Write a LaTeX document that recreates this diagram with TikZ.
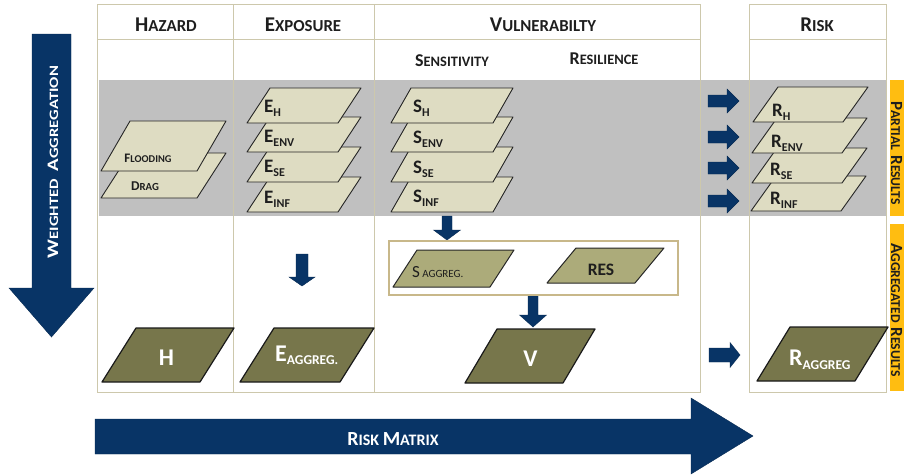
\documentclass[tikz,border=0pt]{standalone}
\usepackage{fontspec}
\usepackage{graphicx}
\setmainfont{Carlito}
\definecolor{navy}{RGB}{8,52,102}
\definecolor{beige}{RGB}{222,220,194}
\definecolor{olivedark}{RGB}{119,118,75}
\definecolor{olivelight}{RGB}{172,171,122}
\definecolor{bandgray}{RGB}{192,192,192}
\definecolor{rulecol}{RGB}{205,200,172}
\definecolor{boxcol}{RGB}{200,184,138}
\definecolor{amber}{RGB}{255,189,17}
\definecolor{ink}{RGB}{30,30,30}
\newcommand\fs[1]{\fontsize{#1}{#1}\selectfont}
% parallelogram: style, bottom-left x, bottom y, width, height, slant
\newcommand\para[6]{\path[#1] (#2,#3) -- ++(#4,0) -- ++(#6,-#5) -- ++(-#4,0) -- cycle;}
% right block arrow: x0, yc, shaft end x, tip x, shaft half, head half
\newcommand\rblock[6]{\path[blockarrow] (#1,#2-#5) -- (#3,#2-#5) -- (#3,#2-#6) -- (#4,#2) -- (#3,#2+#6) -- (#3,#2+#5) -- (#1,#2+#5) -- cycle;}
% down block arrow: xc, y0, shaft end y, tip y, shaft half, head half
\newcommand\dblock[6]{\path[blockarrow] (#1-#5,#2) -- (#1-#5,#3) -- (#1-#6,#3) -- (#1,#4) -- (#1+#6,#3) -- (#1+#5,#3) -- (#1+#5,#2) -- cycle;}
\newcommand\lay[2]{\fs{19pt}#1\raisebox{-4pt}{\fs{12pt}#2}}
\tikzset{
  layer/.style={fill=beige, draw=black!85, line width=0.9pt, line join=round},
  darkpara/.style={fill=olivedark, draw=black!90, line width=1.2pt, line join=round},
  lightpara/.style={fill=olivelight, draw=black!85, line width=1pt, line join=round},
  blockarrow/.style={fill=navy, draw=navy!80!black, line width=0.4pt},
  tline/.style={draw=rulecol, line width=0.9pt},
  hdr/.style={text=ink, font=\bfseries, inner sep=0pt, anchor=base},
  lbl/.style={text=ink, font=\bfseries, inner sep=0pt, anchor=base west},
  wlbl/.style={text=white, font=\bfseries, inner sep=0pt, anchor=base},
}
\begin{document}
\begin{tikzpicture}[x=1pt,y=-1pt]
\useasboundingbox (0,0) rectangle (904,474);
\begin{scope}
\clip (0,0) rectangle (904,474);
% grey band
\fill[bandgray] (99,80) rectangle (887,216);
% table
\draw[tline] (97,4) rectangle (700,392);
\draw[tline] (233,4) -- (233,392);
\draw[tline] (374,4) -- (374,392);
\draw[tline] (97,39) -- (700,39);
\draw[tline] (749,4) rectangle (886,392);
\draw[tline] (749,39) -- (886,39);
% headers
\node[hdr] (hazard) at (166,31) {{\fs{21pt}H}{\fs{16.8pt}AZARD}};
\node[hdr] (exposure) at (303,31) {{\fs{21pt}E}{\fs{16.8pt}XPOSURE}};
\node[hdr] (vuln) at (543,31) {{\fs{21pt}V}{\fs{16.8pt}ULNERABILTY}};
\node[hdr] (risk) at (817,31) {{\fs{21pt}R}{\fs{16.8pt}ISK}};
\node[hdr] (sens) at (452,66) {{\fs{18pt}S}{\fs{14.4pt}ENSITIVITY}};
\node[hdr] (resil) at (604,64) {{\fs{18pt}R}{\fs{14.4pt}ESILIENCE}};
% orange side bars
\fill[amber] (890,80) rectangle (912,216);
\fill[amber] (890,224) rectangle (912,391);
\node[rotate=-90, anchor=base, inner sep=0pt, text=ink, font=\bfseries] (partial) at (891,153) {{\fs{17pt}P}{\fs{13.6pt}ARTIAL}\hspace{5pt}{\fs{17pt}R}{\fs{13.6pt}ESULTS}};
\node[rotate=-90, anchor=base, inner sep=0pt, text=ink, font=\bfseries] (aggres) at (891,310) {{\fs{17pt}A}{\fs{13.6pt}GGREGATED}\hspace{5pt}{\fs{17pt}R}{\fs{13.6pt}ESULTS}};
% left big arrow
\path[blockarrow] (32,34) -- (71,34) -- (71,288) -- (94,288) -- (51.5,337) -- (9,288) -- (32,288) -- cycle;
\node[rotate=90, anchor=base, inner sep=0pt, text=white, font=\bfseries] (weighted) at (58,162) {\scalebox{1.3}[1]{{\fs{16pt}W}{\fs{12.8pt}EIGHTED\ \ }{\fs{16pt}A}{\fs{12.8pt}GGREGATION}}};
% bottom big arrow
\path[blockarrow] (95,419) -- (691,419) -- (691,398) -- (753,436) -- (691,474) -- (691,454) -- (95,454) -- cycle;
\node[wlbl] (riskmatrix) at (393,445) {{\fs{20pt}R}{\fs{16pt}ISK }{\fs{20pt}M}{\fs{16pt}ATRIX}};
% hazard layers
\para{layer}{101}{198}{96}{45}{29}
\para{layer}{101}{171}{96}{50}{29}
\node[text=ink, font=\bfseries, inner sep=0pt, anchor=base] (flooding) at (148,162) {{\fs{13pt}F}{\fs{10.4pt}LOODING}};
\node[text=ink, font=\bfseries, inner sep=0pt, anchor=base] (drag) at (145,190) {{\fs{13.5pt}D}{\fs{10.8pt}RAG}};
% exposure layers
\para{layer}{247}{212}{91}{35}{23}
\para{layer}{247}{182}{91}{35}{23}
\para{layer}{247}{152}{91}{35}{23}
\para{layer}{247}{123}{91}{35}{23}
\node[lbl] (eH) at (264,112) {\lay{E}{H}};
\node[lbl] (eENV) at (264,142) {\lay{E}{ENV}};
\node[lbl] (eSE) at (264,172) {\lay{E}{SE}};
\node[lbl] (eINF) at (264,203) {\lay{E}{INF}};
% sensitivity layers
\para{layer}{391}{212}{102}{35}{20}
\para{layer}{391}{182}{102}{35}{20}
\para{layer}{391}{152}{102}{35}{20}
\para{layer}{391}{123}{102}{35}{20}
\node[lbl] (sH) at (413,112) {\lay{S}{H}};
\node[lbl] (sENV) at (413,143) {\lay{S}{ENV}};
\node[lbl] (sSE) at (413,173) {\lay{S}{SE}};
\node[lbl] (sINF) at (413,202) {\lay{S}{INF}};
% risk layers
\para{layer}{751}{211}{90}{35}{25}
\para{layer}{752}{183}{90}{35}{25}
\para{layer}{752}{153}{90}{35}{25}
\para{layer}{753}{122}{90}{35}{25}
\node[lbl] (rH) at (772,116) {\lay{R}{H}};
\node[lbl] (rENV) at (771,147) {\lay{R}{ENV}};
\node[lbl] (rSE) at (770,175) {\lay{R}{SE}};
\node[lbl] (rINF) at (770,204) {\lay{R}{INF}};
% arrows to risk layers
\rblock{708}{101}{727}{739}{6}{12}
\rblock{708}{137}{727}{739}{6}{12}
\rblock{708}{168}{727}{739}{6}{12}
\rblock{708}{201}{727}{739}{6}{12}
% down arrows
\dblock{302}{254}{277}{286}{6}{13}
\dblock{447}{216}{230}{240}{5}{13.5}
\dblock{533}{296}{315}{327}{5}{13.5}
% aggregation box
\draw[boxcol, line width=1.2pt] (389,241) rectangle (678,295);
\para{lightpara}{393}{287}{97}{37}{24}
\para{lightpara}{547}{283}{88}{35}{29}
\node[text=ink, inner sep=0pt, anchor=base west] (sagg) at (412,277) {{\fs{17pt}S}\ {\fs{11pt}AGGREG.}};
\node[text=ink, font=\bfseries, inner sep=0pt, anchor=base] (res) at (601,275) {\fs{17.5pt}RES};
% aggregated results
\para{darkpara}{102}{382}{98}{54}{34}
\para{darkpara}{240}{382}{100}{54}{34}
\para{darkpara}{465}{383}{98}{54}{32}
\para{darkpara}{757}{381}{98}{54}{33}
\node[wlbl] (H) at (166.5,365) {\fs{24pt}H};
\node[wlbl, anchor=base west] (Eagg) at (275,361) {\fs{24pt}E\raisebox{-3pt}{\fs{13.5pt}AGGREG.}};
\node[wlbl] (V) at (530.5,366) {\fs{24pt}V};
\node[wlbl, anchor=base west] (Ragg) at (789,365) {\fs{24pt}R\raisebox{-4pt}{\fs{13.5pt}AGGREG}};
\rblock{709}{355}{730}{740}{7}{12.5}
\end{scope}
\end{tikzpicture}
\end{document}
